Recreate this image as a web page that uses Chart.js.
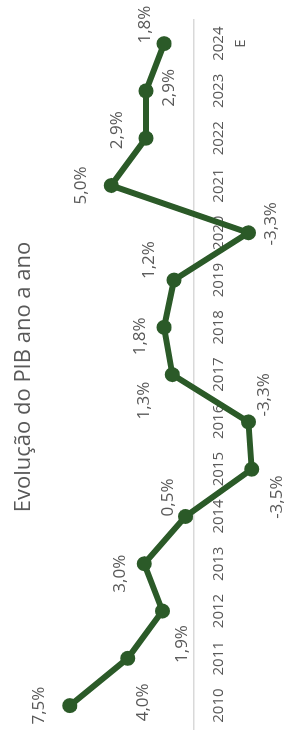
<!DOCTYPE html>
<html>
<head>
<meta charset="utf-8">
<script src="https://cdn.jsdelivr.net/npm/chart.js@4"></script>
<style>
  html, body { margin: 0; padding: 0; background: #ffffff; overflow: hidden; }
  body { width: 284px; height: 737px; position: relative; }
  #wrap {
    position: absolute; left: 0; top: 737px;
    width: 737px; height: 284px;
    transform-origin: 0 0; transform: rotate(-90deg);
  }
</style>
</head>
<body>
<div id="wrap"><canvas id="c" width="737" height="284"></canvas></div>
<script>
// ---- data ----
const years = ['2010','2011','2012','2013','2014','2015','2016','2017','2018','2019','2020','2021','2022','2023',['2024','E']];
const gdpGrowth = [7.5, 4.0, 1.9, 3.0, 0.5, -3.5, -3.3, 1.3, 1.8, 1.2, -3.3, 5.0, 2.9, 2.9, 1.8];
const chartTitle = 'Evolução do PIB ano a ano';

// ---- label placement (chart frame, px) ----
const labelOffsets = [
  [0,-31],[-44,15],[-33,20],[-10,-24],[19,-17],[-28,25],[27,16],[-26,-28],
  [-9,-24],[20,-25],[9,23],[0,-30],[8,-29],[3,23],[19,-19]
];

const textColor = '#595959';
const lineColor = '#2b5a28';

const labelPlugin = {
  id: 'pointLabels',
  afterDatasetsDraw(chart) {
    const ctx = chart.ctx;
    const meta = chart.getDatasetMeta(0);
    const values = chart.data.datasets[0].data;
    ctx.save();
    ctx.font = '17px "Open Sans"';
    ctx.fillStyle = textColor;
    ctx.textAlign = 'center';
    ctx.textBaseline = 'middle';
    meta.data.forEach((pt, i) => {
      const off = labelOffsets[i] || [0, -25];
      const txt = values[i].toFixed(1).replace('.', ',') + '%';
      ctx.fillText(txt, pt.x + off[0], pt.y + off[1]);
    });
    ctx.restore();
  }
};

new Chart(document.getElementById('c'), {
  type: 'line',
  data: {
    labels: years,
    datasets: [{
      data: gdpGrowth,
      borderColor: lineColor,
      backgroundColor: lineColor,
      borderWidth: 6,
      pointRadius: 7.5,
      pointBackgroundColor: lineColor,
      pointBorderColor: lineColor,
      pointBorderWidth: 0,
      tension: 0,
      fill: false
    }]
  },
  options: {
    responsive: false,
    animation: false,
    devicePixelRatio: 1,
    layout: { padding: { left: 3, right: 20, top: 0, bottom: 4 } },
    plugins: {
      legend: { display: false },
      tooltip: { enabled: false },
      title: {
        display: true,
        text: chartTitle,
        color: textColor,
        font: { family: '"Open Sans"', size: 22, weight: 'normal', lineHeight: 1.2 },
        padding: { top: 11, bottom: 24.2 }
      }
    },
    scales: {
      x: {
        type: 'category',
        position: { y: 0 },
        offset: true,
        grid: { display: false, drawTicks: false },
        border: { display: true, color: '#d9d9d9', width: 1.5 },
        ticks: {
          color: textColor,
          font: { family: '"Open Sans"', size: 15, lineHeight: 1.45 },
          padding: 14,
          maxRotation: 0,
          autoSkip: false
        }
      },
      y: {
        display: false,
        min: -5,
        max: 8
      }
    }
  },
  plugins: [labelPlugin]
});
</script>
</body>
</html>
